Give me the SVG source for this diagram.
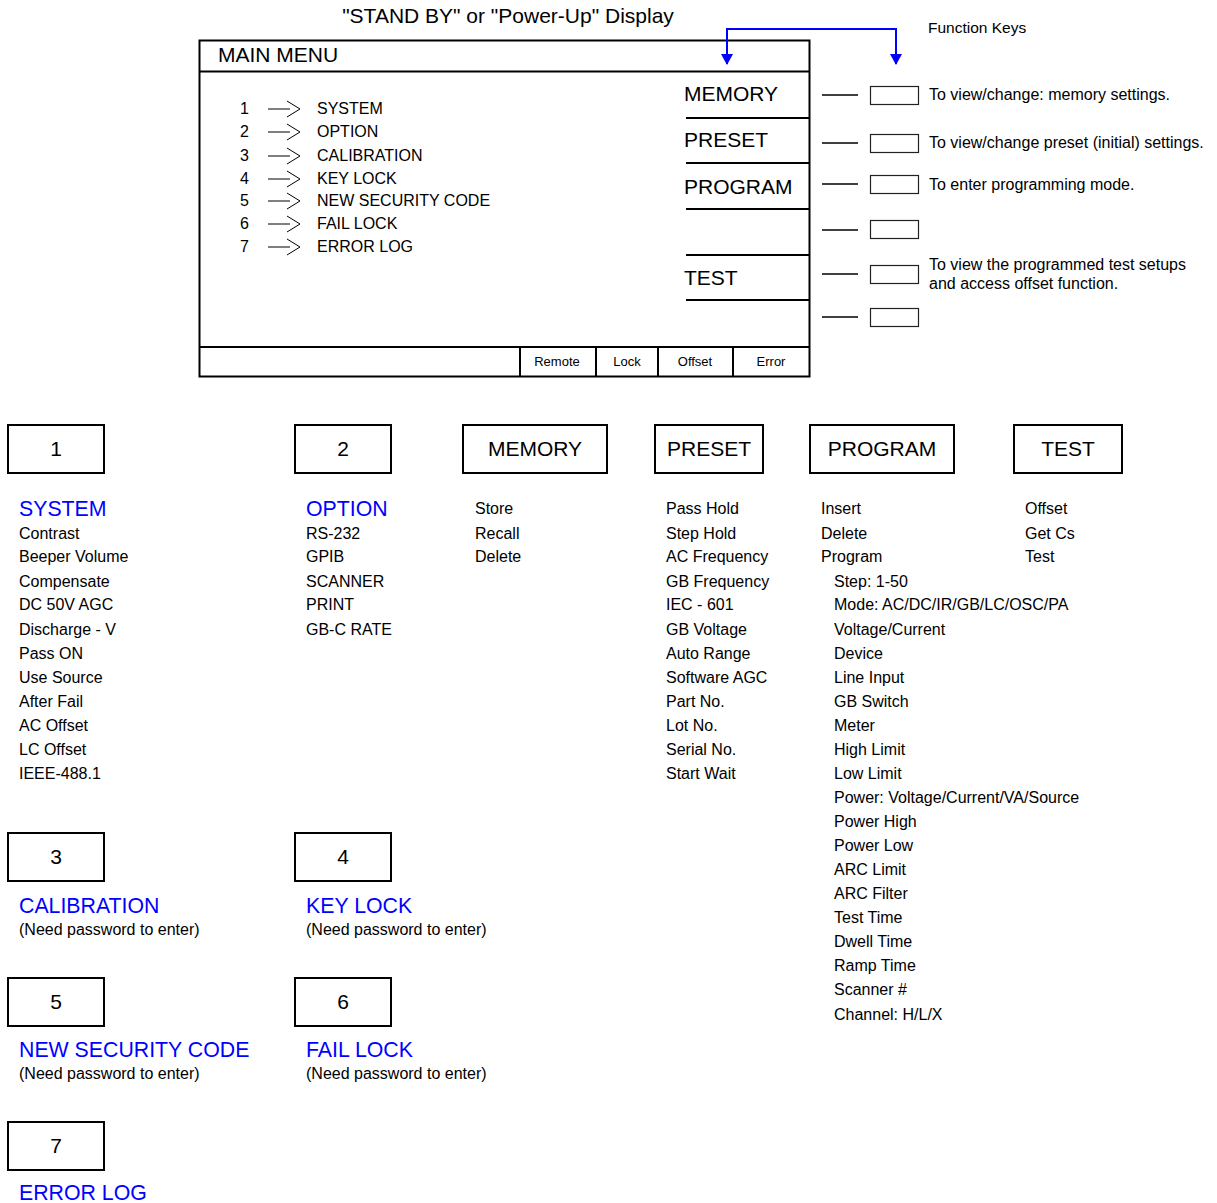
<svg xmlns="http://www.w3.org/2000/svg" width="1217" height="1203" viewBox="0 0 1217 1203">
<style>
text{font-family:"Liberation Sans",Arial,sans-serif;fill:#000}
.t20{font-size:21px}
.t21{font-size:21px}
.t16{font-size:16px}
.t155{font-size:16px}
.t15{font-size:15.5px}
.t13{font-size:13px}
.blue{fill:#0000ff;font-size:21.3px}
.mid{text-anchor:middle}
.box{fill:#fff;stroke:#000;stroke-width:2}
.key{fill:#fff;stroke:#222;stroke-width:1.2}
.ln{stroke:#000;stroke-width:2;fill:none}
.ln1{stroke:#000;stroke-width:1.5;fill:none}
.arr{stroke:#000;stroke-width:1;fill:none}
.conn{stroke:#0000ff;stroke-width:2;fill:none}
</style>

<text class="t20 mid" x="508" y="23">"STAND BY" or "Power-Up" Display</text>
<text class="t15" x="928" y="33">Function Keys</text>

<g id="main-display">
<rect class="box" x="199.5" y="40.5" width="610" height="336"/>
<line class="ln" x1="199.5" y1="71.5" x2="809.5" y2="71.5"/>
<text class="t21" x="218" y="62">MAIN MENU</text>
<g id="menu-list">
<g class="t155">
<text x="240" y="114">1</text>
<text x="240" y="137">2</text>
<text x="240" y="161">3</text>
<text x="240" y="184">4</text>
<text x="240" y="206">5</text>
<text x="240" y="229">6</text>
<text x="240" y="252">7</text>
<text x="317" y="114">SYSTEM</text>
<text x="317" y="137">OPTION</text>
<text x="317" y="161">CALIBRATION</text>
<text x="317" y="184">KEY LOCK</text>
<text x="317" y="206">NEW SECURITY CODE</text>
<text x="317" y="229">FAIL LOCK</text>
<text x="317" y="252">ERROR LOG</text>
</g>
<g class="arr">
<path d="M268,109 H290 M287,101 L300,109 L287,117"/>
<path d="M268,132 H290 M287,124 L300,132 L287,140"/>
<path d="M268,156 H290 M287,148 L300,156 L287,164"/>
<path d="M268,179 H290 M287,171 L300,179 L287,187"/>
<path d="M268,201 H290 M287,193 L300,201 L287,209"/>
<path d="M268,224 H290 M287,216 L300,224 L287,232"/>
<path d="M268,247 H290 M287,239 L300,247 L287,255"/>
</g>
</g>
<g id="softkeys">
<text class="t21" x="684" y="101">MEMORY</text>
<text class="t21" x="684" y="147">PRESET</text>
<text class="t21" x="684" y="194">PROGRAM</text>
<text class="t21" x="684" y="285">TEST</text>
<line class="ln" x1="686" y1="118" x2="810" y2="118"/>
<line class="ln" x1="686" y1="163" x2="810" y2="163"/>
<line class="ln" x1="686" y1="209" x2="810" y2="209"/>
<line class="ln" x1="686" y1="255" x2="810" y2="255"/>
<line class="ln" x1="686" y1="300" x2="810" y2="300"/>
</g>
<g id="status-bar">
<line class="ln" x1="199.5" y1="347" x2="809.5" y2="347"/>
<line class="ln" x1="520" y1="347" x2="520" y2="377"/>
<line class="ln" x1="596" y1="347" x2="596" y2="377"/>
<line class="ln" x1="658" y1="347" x2="658" y2="377"/>
<line class="ln" x1="733" y1="347" x2="733" y2="377"/>
<text class="t13 mid" x="557" y="366">Remote</text>
<text class="t13 mid" x="627" y="366">Lock</text>
<text class="t13 mid" x="695" y="366">Offset</text>
<text class="t13 mid" x="771" y="366">Error</text>
</g>
</g>

<g id="function-keys">
<g id="fk1"><line class="ln1" x1="822" y1="95" x2="858" y2="95"/><rect class="key" x="870.5" y="86.5" width="48" height="18"/><text class="t155" x="929" y="100">To view/change: memory settings.</text></g>
<g id="fk2"><line class="ln1" x1="822" y1="143" x2="858" y2="143"/><rect class="key" x="870.5" y="134.5" width="48" height="18"/><text class="t155" x="929" y="148">To view/change preset (initial) settings.</text></g>
<g id="fk3"><line class="ln1" x1="822" y1="184" x2="858" y2="184"/><rect class="key" x="870.5" y="175.5" width="48" height="18"/><text class="t155" x="929" y="190">To enter programming mode.</text></g>
<g id="fk4"><line class="ln1" x1="822" y1="230" x2="858" y2="230"/><rect class="key" x="870.5" y="220.5" width="48" height="18"/></g>
<g id="fk5"><line class="ln1" x1="822" y1="274" x2="858" y2="274"/><rect class="key" x="870.5" y="265.5" width="48" height="18"/><text class="t155" x="929" y="270">To view the programmed test setups</text><text class="t155" x="929" y="289">and access offset function.</text></g>
<g id="fk6"><line class="ln1" x1="822" y1="317" x2="858" y2="317"/><rect class="key" x="870.5" y="308.5" width="48" height="18"/></g>
</g>

<g id="connectors">
<path class="conn" d="M727,64 V29 H896 V64"/>
<path d="M721,54 L733,54 L727,65 z" fill="#0000ff"/>
<path d="M890,54 L902,54 L896,65 z" fill="#0000ff"/>
</g>

<g id="node-1">
<rect class="box" x="8" y="425" width="96" height="48"/>
<text class="t21 mid" x="56" y="456">1</text>
<text class="blue" x="19" y="516">SYSTEM</text>
<g class="t16">
<text x="19" y="539">Contrast</text>
<text x="19" y="562">Beeper Volume</text>
<text x="19" y="587">Compensate</text>
<text x="19" y="610">DC 50V AGC</text>
<text x="19" y="635">Discharge - V</text>
<text x="19" y="659">Pass ON</text>
<text x="19" y="683">Use Source</text>
<text x="19" y="707">After Fail</text>
<text x="19" y="731">AC Offset</text>
<text x="19" y="755">LC Offset</text>
<text x="19" y="779">IEEE-488.1</text>
</g>
</g>

<g id="node-2">
<rect class="box" x="295" y="425" width="96" height="48"/>
<text class="t21 mid" x="343" y="456">2</text>
<text class="blue" x="306" y="516">OPTION</text>
<g class="t16">
<text x="306" y="539">RS-232</text>
<text x="306" y="562">GPIB</text>
<text x="306" y="587">SCANNER</text>
<text x="306" y="610">PRINT</text>
<text x="306" y="635">GB-C RATE</text>
</g>
</g>

<g id="node-memory">
<rect class="box" x="463" y="425" width="144" height="48"/>
<text class="t21 mid" x="535" y="456">MEMORY</text>
<g class="t16">
<text x="475" y="514">Store</text>
<text x="475" y="539">Recall</text>
<text x="475" y="562">Delete</text>
</g>
</g>

<g id="node-preset">
<rect class="box" x="655" y="425" width="108" height="48"/>
<text class="t21 mid" x="709" y="456">PRESET</text>
<g class="t16">
<text x="666" y="514">Pass Hold</text>
<text x="666" y="539">Step Hold</text>
<text x="666" y="562">AC Frequency</text>
<text x="666" y="587">GB Frequency</text>
<text x="666" y="610">IEC - 601</text>
<text x="666" y="635">GB Voltage</text>
<text x="666" y="659">Auto Range</text>
<text x="666" y="683">Software AGC</text>
<text x="666" y="707">Part No.</text>
<text x="666" y="731">Lot No.</text>
<text x="666" y="755">Serial No.</text>
<text x="666" y="779">Start Wait</text>
</g>
</g>

<g id="node-program">
<rect class="box" x="810" y="425" width="144" height="48"/>
<text class="t21 mid" x="882" y="456">PROGRAM</text>
<g class="t16">
<text x="821" y="514">Insert</text>
<text x="821" y="539">Delete</text>
<text x="821" y="562">Program</text>
<text x="834" y="587">Step: 1-50</text>
<text x="834" y="610">Mode: AC/DC/IR/GB/LC/OSC/PA</text>
<text x="834" y="635">Voltage/Current</text>
<text x="834" y="659">Device</text>
<text x="834" y="683">Line Input</text>
<text x="834" y="707">GB Switch</text>
<text x="834" y="731">Meter</text>
<text x="834" y="755">High Limit</text>
<text x="834" y="779">Low Limit</text>
<text x="834" y="803">Power: Voltage/Current/VA/Source</text>
<text x="834" y="827">Power High</text>
<text x="834" y="851">Power Low</text>
<text x="834" y="875">ARC Limit</text>
<text x="834" y="899">ARC Filter</text>
<text x="834" y="923">Test Time</text>
<text x="834" y="947">Dwell Time</text>
<text x="834" y="971">Ramp Time</text>
<text x="834" y="995">Scanner #</text>
<text x="834" y="1020">Channel: H/L/X</text>
</g>
</g>

<g id="node-test">
<rect class="box" x="1014" y="425" width="108" height="48"/>
<text class="t21 mid" x="1068" y="456">TEST</text>
<g class="t16">
<text x="1025" y="514">Offset</text>
<text x="1025" y="539">Get Cs</text>
<text x="1025" y="562">Test</text>
</g>
</g>

<g id="node-3">
<rect class="box" x="8" y="833" width="96" height="48"/>
<text class="t21 mid" x="56" y="864">3</text>
<text class="blue" x="19" y="913">CALIBRATION</text>
<text class="t16" x="19" y="935">(Need password to enter)</text>
</g>

<g id="node-4">
<rect class="box" x="295" y="833" width="96" height="48"/>
<text class="t21 mid" x="343" y="864">4</text>
<text class="blue" x="306" y="913">KEY LOCK</text>
<text class="t16" x="306" y="935">(Need password to enter)</text>
</g>

<g id="node-5">
<rect class="box" x="8" y="978" width="96" height="48"/>
<text class="t21 mid" x="56" y="1009">5</text>
<text class="blue" x="19" y="1057">NEW SECURITY CODE</text>
<text class="t16" x="19" y="1079">(Need password to enter)</text>
</g>

<g id="node-6">
<rect class="box" x="295" y="978" width="96" height="48"/>
<text class="t21 mid" x="343" y="1009">6</text>
<text class="blue" x="306" y="1057">FAIL LOCK</text>
<text class="t16" x="306" y="1079">(Need password to enter)</text>
</g>

<g id="node-7">
<rect class="box" x="8" y="1122" width="96" height="48"/>
<text class="t21 mid" x="56" y="1153">7</text>
<text class="blue" x="19" y="1200">ERROR LOG</text>
</g>
</svg>
